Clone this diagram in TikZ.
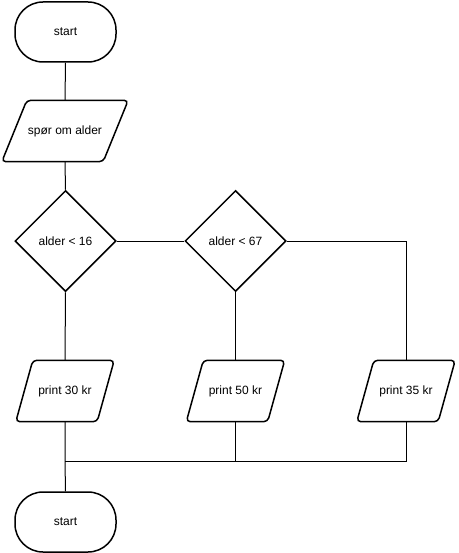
\documentclass[tikz,border=0pt]{standalone}
\usepackage{fontspec}
\setmainfont{Liberation Sans}
\usetikzlibrary{shapes.geometric,calc}
\begin{document}
\begin{tikzpicture}[x=1pt,y=1pt,
  every node/.style={font=\fontsize{12}{14}\selectfont, inner sep=0pt},
  term/.style={draw, line width=1.5pt, rounded corners=28pt, minimum width=101pt, minimum height=60pt},
  decision/.style={draw, line width=1.5pt, diamond, minimum width=101pt, minimum height=101pt, aspect=1},
  io/.style={minimum width=#1, minimum height=61pt},
  link/.style={line width=1pt}
]
\useasboundingbox (0,0) rectangle (458,-553);
% nodes
\node[term] (s) at (65.5,-32) {start};
\node[io=126pt] (q) at (65,-131) {spør om alder};
\node[decision] (d1) at (65.5,-241) {alder < 16};
\node[decision] (d2) at (235.5,-241) {alder < 67};
\node[io=98pt] (p1) at (65,-391) {print 30 kr};
\node[io=98pt] (p2) at (235.5,-391) {print 50 kr};
\node[io=98pt] (p3) at (406,-391) {print 35 kr};
\node[term] (e) at (65.5,-522) {start};
% parallelogram outlines
\draw[line width=1.5pt, rounded corners=4pt]
  (q.south west) -- ($(q.north west)+(25,0)$) -- (q.north east) -- ($(q.south east)-(25,0)$) -- cycle;
\foreach \n in {p1,p2,p3}{
  \draw[line width=1.5pt, rounded corners=4pt]
    (\n.south west) -- ($(\n.north west)+(17,0)$) -- (\n.north east) -- ($(\n.south east)-(17,0)$) -- cycle;
}
% connectors
\coordinate (c3) at (p3.north |- d2.east);
\coordinate (j1) at ($(p1.south)+(0,-40)$);
\coordinate (j2) at (p2.south |- j1);
\coordinate (j3) at (p3.south |- j1);
\draw[link] (s.south) -- (q.north);
\draw[link] (q.south) -- (d1.north);
\draw[link] (d1.east) -- (d2.west);
\draw[link] (d1.south) -- (p1.north);
\draw[link] (d2.south) -- (p2.north);
\draw[link] (d2.east) -- (c3) -- (p3.north);
\draw[link] (p1.south) -- (j1) -- (e.north);
\draw[link] (p2.south) -- (j2);
\draw[link] (p3.south) -- (j3) -- (j1);
\end{tikzpicture}
\end{document}
